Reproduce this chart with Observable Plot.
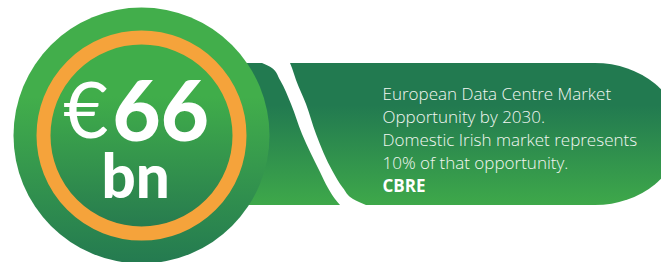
<!DOCTYPE html>
<html>
<head>
<meta charset="utf-8">
<script src="https://cdn.jsdelivr.net/npm/d3@7"></script>
<script src="https://cdn.jsdelivr.net/npm/@observablehq/plot@0.6"></script>
<style>
  html, body { margin: 0; padding: 0; background: #ffffff; }
  svg { display: block; }
</style>
</head>
<body>
<div id="chart"></div>
<script>
// ---- data ----
const currency = ["€"];
const amount = ["66"];
const unit = ["bn"];
const descriptionLines = [
  "European Data Centre Market",
  "Opportunity by 2030.",
  "Domestic Irish market represents",
  "10% of that opportunity."
];
const source = ["CBRE"];

// ---- layout (pixel space) ----
const W = 661, H = 262;
const badge = {cx: 141, cy: 135, r: 128, ringR: 98, ringW: 14};
const banner = {x1: 40, x2: 680, y1: 63, y2: 205, rx: 85, ry: 71};
const swoosh = [
  {y: 63, a: 262, b: 290},
  {y: 68, a: 272, b: 292},
  {y: 80, a: 280, b: 296},
  {y: 104, a: 291, b: 306},
  {y: 134, a: 302, b: 316},
  {y: 172, a: 320, b: 333},
  {y: 188, a: 328, b: 343},
  {y: 199, a: 335, b: 353},
  {y: 205, a: 340, b: 366}
];
const textX = 382, textY0 = 99, lineH = 23, textSize = 17;
// Plot centres text on y with dy = 0.32em; convert a baseline to that centre
const mid = (baseline, size) => baseline - 0.32 * size;

const lineRows = descriptionLines.map((t, i) => ({t, y: mid(textY0 + i * lineH, textSize)}));
const sourceRow = source.map(t => ({t, y: mid(textY0 + descriptionLines.length * lineH, textSize)}));

const chart = Plot.plot({
  width: W,
  height: H,
  margin: 0,
  x: {domain: [0, W], range: [0, W], axis: null},
  y: {domain: [0, H], range: [0, H], axis: null},
  r: {type: "identity"},
  marks: [
    // banner
    Plot.rect([banner], {x1: "x1", x2: "x2", y1: "y1", y2: "y2", rx: banner.rx, ry: banner.ry, fill: "url(#gBanner)"}),
    // white swoosh
    Plot.areaX(swoosh, {y: "y", x1: "a", x2: "b", fill: "white", curve: "monotone-y"}),
    // badge
    Plot.dot([badge], {x: "cx", y: "cy", r: "r", fill: "url(#gOuter)", stroke: "none"}),
    Plot.dot([badge], {x: "cx", y: "cy", r: "ringR", fill: "url(#gInner)", stroke: "#f5a33b", strokeWidth: badge.ringW}),
    // headline
    Plot.text(currency, {x: 108, y: mid(137, 78), text: d => d, fill: "white", fontSize: 78, fontWeight: 400, textAnchor: "end", fontFamily: "Lato"}),
    Plot.text(amount, {x: 112, y: mid(140, 83), text: d => d, fill: "white", fontSize: 83, fontWeight: 900, textAnchor: "start", fontFamily: "Lato", letterSpacing: -4}),
    Plot.text(unit, {x: 101, y: mid(197, 60), text: d => d, fill: "white", fontSize: 60, fontWeight: 900, textAnchor: "start", fontFamily: "Lato", letterSpacing: 9}),
    // description
    Plot.text(lineRows, {x: textX, y: "y", text: "t", fill: "#f2f7f2", fontSize: textSize, fontWeight: 300, textAnchor: "start", fontFamily: "Open Sans"}),
    Plot.text(sourceRow, {x: textX, y: "y", text: "t", fill: "white", fontSize: textSize, fontWeight: 700, textAnchor: "start", fontFamily: "Open Sans"})
  ]
});

const defs = d3.select(chart).insert("defs", ":first-child");
function vgrad(id, top, bottom, o1 = 0, o2 = 1) {
  const g = defs.append("linearGradient").attr("id", id).attr("x1", 0).attr("y1", 0).attr("x2", 0).attr("y2", 1);
  g.append("stop").attr("offset", o1).attr("stop-color", top);
  g.append("stop").attr("offset", o2).attr("stop-color", bottom);
}
vgrad("gBanner", "#227a50", "#3ea84a", 0.3, 1);
vgrad("gOuter", "#42ae4b", "#247a50", 0.35, 1);
vgrad("gInner", "#40ad4a", "#26794f", 0.3, 1);

document.getElementById("chart").appendChild(chart);
</script>
</body>
</html>
